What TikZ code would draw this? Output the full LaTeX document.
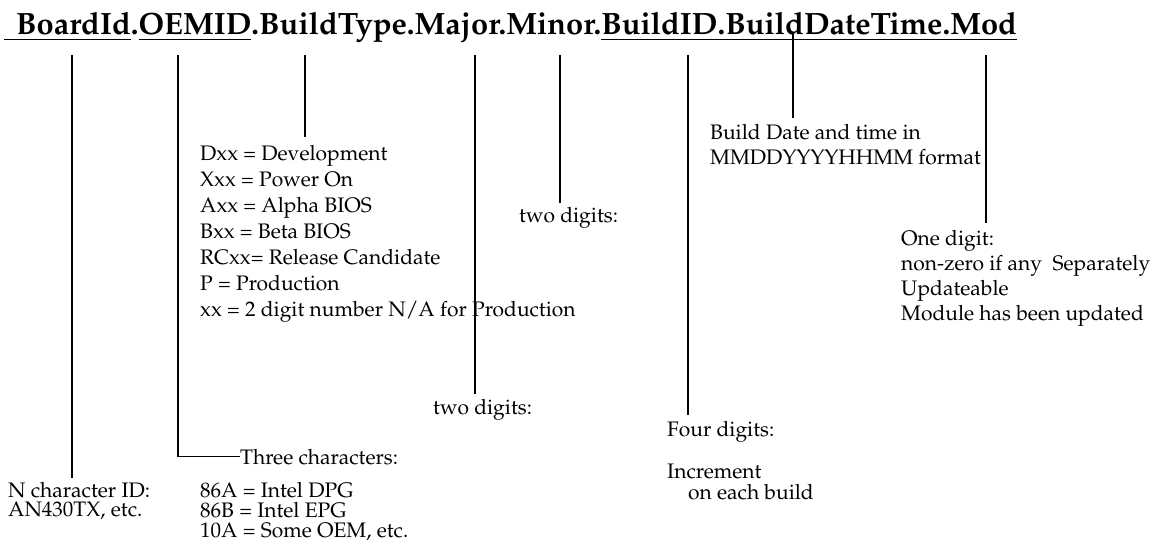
\documentclass[tikz,border=0pt]{standalone}
\usepackage[T1]{fontenc}
\usepackage{mathpazo}
\newcommand{\blk}[1]{\begin{tabular}[t]{@{}l@{}}#1\end{tabular}}
\begin{document}
\begin{tikzpicture}[x=1pt,y=-1pt,
  lbl/.style={anchor=base west, inner sep=0pt, font=\fontsize{21}{26}\selectfont},
  tight/.style={font=\fontsize{21}{18}\selectfont},
  mid/.style={font=\fontsize{21}{20}\selectfont},
  wide/.style={font=\fontsize{21}{25}\selectfont},
  lead/.style={line width=1.1pt, line cap=butt}]
\fill[white] (0,0) rectangle (1156,543);
\useasboundingbox (0,0) rectangle (1156,543);
\node[anchor=base west, inner sep=0pt, font=\fontsize{30.8}{36}\selectfont\bfseries] (title) at (4,35)
  {\underline{\kern12pt BoardId}.\underline{OEMID}.BuildType.Major.Minor.\underline{BuildID.BuildDateTime.Mod}};
% text nodes
\node[lbl,tight] (board) at (8,497) {\blk{N character ID:\\AN430TX, etc.}};
\node[lbl] (oem) at (240,464) {Three characters:};
\node[lbl,tight] (oemlist) at (200,497) {\blk{86A = Intel DPG\\86B = Intel EPG\\10A = Some OEM, etc.}};
\node[lbl] (btype) at (200,160) {\blk{Dxx = Development\\Xxx = Power On\\Axx = Alpha BIOS\\Bxx = Beta BIOS\\RCxx= Release Candidate\\P = Production\\xx = 2 digit number N/A for Production}};
\node[lbl] (major) at (433,414) {two digits:};
\node[lbl] (minor) at (519,222) {two digits:};
\node[lbl] (bid) at (667,436) {Four digits:};
\node[lbl,mid] (bidinc) at (667,478) {\blk{Increment\\\hspace*{21pt}on each build}};
\node[lbl,wide] (bdt) at (710,139) {\blk{Build Date and time in\\MMDDYYYYHHMM format}};
\node[lbl,wide] (mod) at (901,245) {\blk{One digit:\\non-zero if any\ \ Separately\\Updateable\\Module has been updated}};
% line ends
\coordinate (t1) at (72,55);   \coordinate (e1) at (72,478);
\coordinate (t2) at (178,55);
\coordinate (t3) at (305,55);  \coordinate (e3) at (305,137);
\coordinate (t4) at (475,55);  \coordinate (e4) at (475,394);
\coordinate (t5) at (560,55);  \coordinate (e5) at (560,203);
\coordinate (t6) at (688,55);  \coordinate (e6) at (688,415);
\coordinate (t7) at (793,33);  \coordinate (e7) at (793,118);
\coordinate (t8) at (986,55);  \coordinate (e8) at (986,223);
\draw[lead] (t1) -- (e1);
\draw[lead] (t2) |- (oem.west);
\draw[lead] (t3) -- (e3);
\draw[lead] (t4) -- (e4);
\draw[lead] (t5) -- (e5);
\draw[lead] (t6) -- (e6);
\draw[lead] (t7) -- (e7);
\draw[lead] (t8) -- (e8);
\end{tikzpicture}
\end{document}
